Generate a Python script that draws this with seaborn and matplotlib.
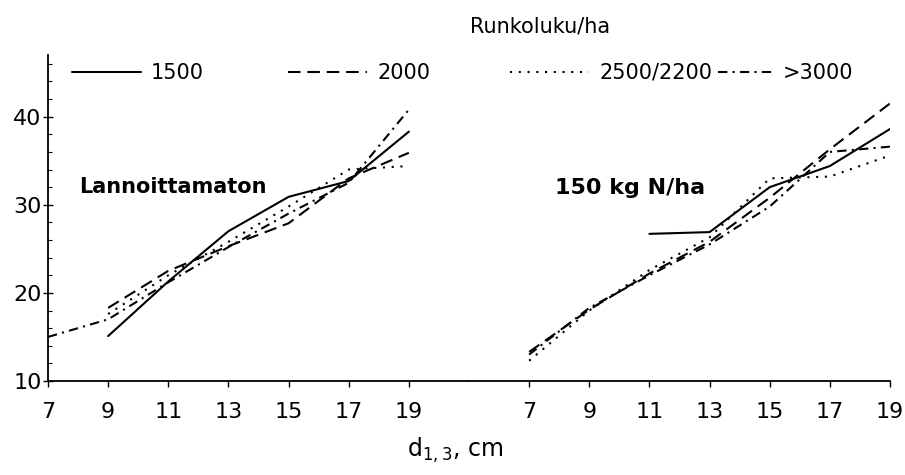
import matplotlib
matplotlib.use("Agg")
import matplotlib.pyplot as plt
import pandas as pd
import seaborn as sns
from matplotlib.ticker import MultipleLocator

# ---------------- data ----------------
diameters = [7, 9, 11, 13, 15, 17, 19]
x_ticks = [7, 9, 11, 13, 15, 17, 19]
y_ticks = [10, 20, 30, 40]
groups = ["1500", "2000", "2500/2200", ">3000"]

# Lannoittamaton (unfertilised)
unf_1500 = [None, 15.1, 21.3, 27.0, 30.9, 32.7, 38.3]
unf_2000 = [None, 18.3, 22.5, 25.3, 27.9, 33.0, 35.9]
unf_2500 = [None, 17.6, 22.0, 25.8, 29.8, 34.0, 34.4]
unf_3000 = [15.0, 17.0, 21.2, 25.2, 29.0, 32.5, 40.8]

# 150 kg N/ha
fert_1500 = [None, None, 26.7, 26.9, 32.0, 34.4, 38.6]
fert_2000 = [13.3, 18.1, 22.2, 25.8, 30.8, 36.3, 41.5]
fert_2500 = [12.3, 18.0, 22.6, 26.3, 33.0, 33.2, 35.6]
fert_3000 = [13.0, 18.3, 22.0, 25.5, 29.8, 36.0, 36.6]

panel_labels = ["Lannoittamaton", "150 kg N/ha"]
legend_title = "Runkoluku/ha"
x_label = r"d$_\mathregular{1,3}$, cm"


def long_frame(series):
    rows = []
    for g, vals in zip(groups, series):
        for d, v in zip(diameters, vals):
            if v is not None:
                rows.append({"d": d, "h": v, "group": g})
    return pd.DataFrame(rows)


df_left = long_frame([unf_1500, unf_2000, unf_2500, unf_3000])
df_right = long_frame([fert_1500, fert_2000, fert_2500, fert_3000])

# ---------------- style ----------------
sns.set_style("white")
plt.rcParams["font.family"] = ["DejaVu Sans"]
plt.rcParams["axes.edgecolor"] = "black"
plt.rcParams["text.color"] = "black"
plt.rcParams["xtick.color"] = "black"
plt.rcParams["ytick.color"] = "black"

dash_map = {"1500": "", "2000": (6, 3.3), "2500/2200": (1, 3.2),
            ">3000": (4.5, 2.5, 1, 2.5)}

W, H = 905, 475
fig = plt.figure(figsize=(W / 100, H / 100), dpi=100)
ax_left = fig.add_axes([48 / W, 94 / H, 421 / W, 326 / H])
ax_right = fig.add_axes([469 / W, 94 / H, 421 / W, 326 / H])

for ax, df, xlim in ((ax_left, df_left, (7, 21)), (ax_right, df_right, (5, 19))):
    sns.lineplot(data=df, x="d", y="h", style="group", style_order=groups,
                 dashes=dash_map, color="black", linewidth=1.5,
                 errorbar=None, legend=False, ax=ax)
    ax.set_xlim(*xlim)
    ax.set_ylim(10, 47)
    ax.set_xlabel("")
    ax.set_ylabel("")
    ax.set_xticks(x_ticks)
    ax.tick_params(axis="x", direction="out", length=4, width=1, pad=11,
                   labelsize=16, colors="black", bottom=True)
    for s in ("top", "right"):
        ax.spines[s].set_visible(False)
    ax.spines["bottom"].set_linewidth(1.3)

ax_left.set_yticks(y_ticks)
ax_left.yaxis.set_minor_locator(MultipleLocator(2))
ax_left.tick_params(axis="y", which="major", direction="inout", length=7,
                    width=1, pad=1, labelsize=16, colors="black", left=True)
ax_left.tick_params(axis="y", which="minor", direction="in", length=3,
                    width=0.8, left=True)
ax_left.spines["left"].set_linewidth(1.3)

ax_right.spines["left"].set_visible(False)
ax_right.set_yticks([])

ax_left.text(8.05, 32.0, panel_labels[0], fontsize=15, fontweight="bold",
             va="center", ha="left", color="black")
ax_right.text(7.85, 31.9, panel_labels[1], fontsize=16, fontweight="bold",
              va="center", ha="left", color="black")

# ---------------- legend ----------------
handles = ax_right.get_lines()[:4]
leg_x = [72, 288, 510, 718]
leg_len = [3.3, 3.8, 3.8, 2.6]
for h, lab, xp, hl in zip(handles, groups, leg_x, leg_len):
    fig.legend([h], [lab], loc="center left", bbox_to_anchor=(xp / W, 1 - 73 / H),
               frameon=False, fontsize=15, handlelength=hl, handletextpad=0.5,
               borderpad=0, borderaxespad=0, labelcolor="black")

fig.text(540 / W, 1 - 27 / H, legend_title, ha="center", va="center",
         fontsize=15, color="black")
fig.text(455 / W, 1 - 450 / H, x_label, ha="center", va="center",
         fontsize=17, color="black")

fig.savefig("out.png", dpi=100)
